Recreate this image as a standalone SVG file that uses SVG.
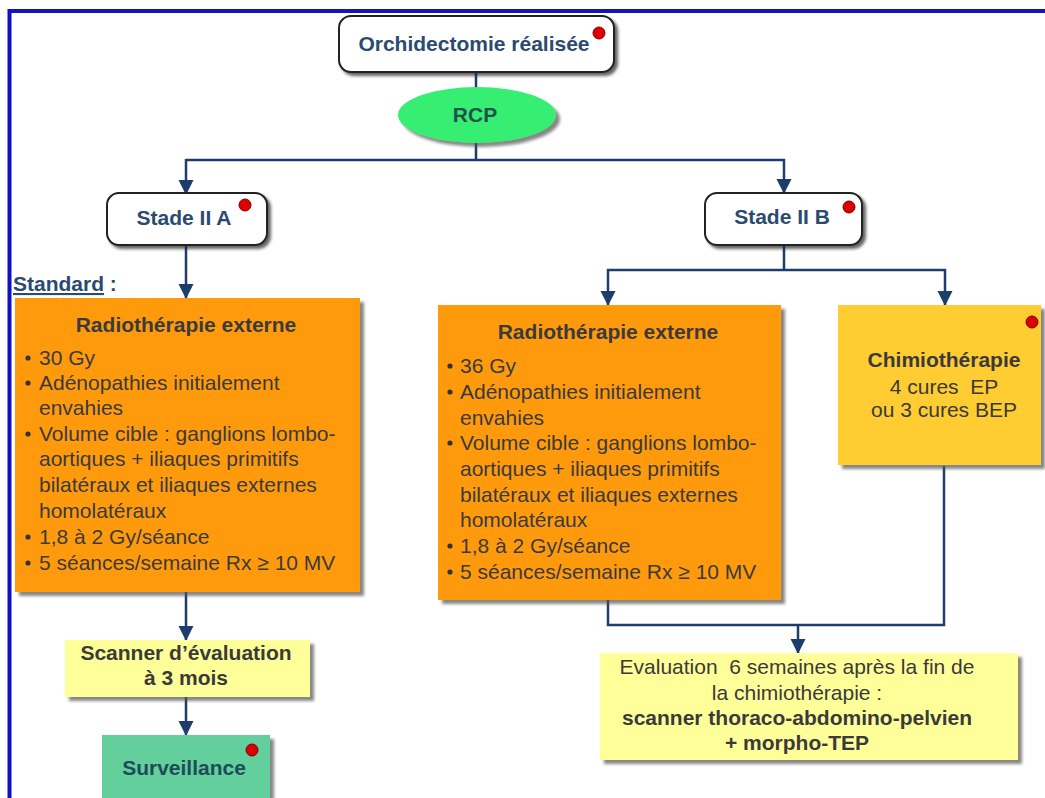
<svg xmlns="http://www.w3.org/2000/svg" width="1045" height="798" viewBox="0 0 1045 798">
<defs>
<filter id="sh" x="-10%" y="-10%" width="130%" height="130%">
<feDropShadow dx="4" dy="4" stdDeviation="1.5" flood-color="#555" flood-opacity="0.7"/>
</filter>
<filter id="shd" x="-10%" y="-10%" width="130%" height="130%">
<feDropShadow dx="3" dy="3" stdDeviation="1.5" flood-color="#222" flood-opacity="0.7"/>
</filter>
<marker id="ah" markerWidth="16" markerHeight="16" refX="14" refY="7.5" orient="auto" markerUnits="userSpaceOnUse">
<path d="M0,0 L15,7.5 L0,15 Z" fill="#1d3d6c"/>
</marker>
</defs>
<style>
.t{font-family:"Liberation Sans",Arial,sans-serif;font-size:21px;}
.b{font-weight:bold;}
.nv{fill:#2b4a70;}
.dk{fill:#3a3a3a;}
.c{text-anchor:middle;}
.rb{fill:#ffffff;stroke:#222;stroke-width:2;}
.dot{fill:#dd0000;stroke:#7a0000;stroke-width:1;}
.bul{fill:#333;}
.ln{fill:none;stroke:#1d3d6c;stroke-width:2.5;}
.ar{fill:none;stroke:#1d3d6c;stroke-width:2.5;marker-end:url(#ah);}
</style>
<rect x="0" y="0" width="1045" height="798" fill="#ffffff"/>
<line x1="8" y1="11" x2="1045" y2="11" stroke="#1414b8" stroke-width="4"/>
<line x1="9.5" y1="9" x2="9.5" y2="798" stroke="#1010c8" stroke-width="4"/>

<g id="connectors">
<line class="ln" x1="476" y1="72" x2="476" y2="88"/>
<path class="ln" d="M476,142 V160 M186,160 H785"/>
<path class="ar" d="M186,159 V194"/>
<path class="ar" d="M784,159 V193"/>
<path class="ar" d="M186,246 V298"/>
<path class="ln" d="M784,245 V270 M607,270 H946"/>
<path class="ar" d="M608,269 V305"/>
<path class="ar" d="M945,269 V305"/>
<path class="ar" d="M186,592 V640"/>
<path class="ar" d="M186,697 V735"/>
<path class="ln" d="M608,600 V625 H944 V466"/>
<path class="ar" d="M798,624 V653"/>
</g>

<g id="orchidectomie">
<rect class="rb" x="339" y="16" width="275" height="56" rx="12" filter="url(#shd)"/>
<text class="t b nv c" x="474" y="51">Orchidectomie réalisée</text>
<circle class="dot" cx="599" cy="33" r="6"/>
</g>

<g id="rcp">
<ellipse cx="477" cy="115" rx="79" ry="28" fill="#36ee72" filter="url(#sh)"/>
<text class="t b c" fill="#21524a" x="475" y="122">RCP</text>
</g>

<g id="stade2a">
<rect class="rb" x="107" y="193" width="160" height="52" rx="12" filter="url(#shd)"/>
<text class="t b nv c" x="184" y="225">Stade II A</text>
<circle class="dot" cx="245" cy="205" r="6"/>
</g>

<g id="stade2b">
<rect class="rb" x="705" y="193" width="157" height="52" rx="12" filter="url(#shd)"/>
<text class="t b nv c" x="782" y="224">Stade II B</text>
<circle class="dot" cx="849" cy="207" r="6"/>
</g>

<g id="standard">
<text class="t b nv" x="13" y="291"><tspan text-decoration="underline">Standard</tspan> :</text>
</g>

<g id="radio-a">
<rect x="15" y="298" width="345" height="294" fill="#ff9a0a" filter="url(#sh)"/>
<text class="t b dk c" x="186" y="332">Radiothérapie externe</text>
<circle class="bul" cx="28" cy="358" r="2.6"/>
<circle class="bul" cx="28" cy="383" r="2.6"/>
<circle class="bul" cx="28" cy="434" r="2.6"/>
<circle class="bul" cx="28" cy="537" r="2.6"/>
<circle class="bul" cx="28" cy="563" r="2.6"/>
<text class="t dk" x="39" y="365">30 Gy</text>
<text class="t dk" x="39" y="390">Adénopathies initialement</text>
<text class="t dk" x="39" y="415">envahies</text>
<text class="t dk" x="39" y="441">Volume cible : ganglions lombo-</text>
<text class="t dk" x="39" y="466">aortiques + iliaques primitifs</text>
<text class="t dk" x="39" y="492">bilatéraux et iliaques externes</text>
<text class="t dk" x="39" y="518">homolatéraux</text>
<text class="t dk" x="39" y="544">1,8 à 2 Gy/séance</text>
<text class="t dk" x="39" y="570">5 séances/semaine Rx ≥ 10 MV</text>
</g>

<g id="radio-b">
<rect x="438" y="305" width="343" height="295" fill="#ff9a0a" filter="url(#sh)"/>
<text class="t b dk c" x="608" y="339">Radiothérapie externe</text>
<circle class="bul" cx="450" cy="366" r="2.6"/>
<circle class="bul" cx="450" cy="392" r="2.6"/>
<circle class="bul" cx="450" cy="443" r="2.6"/>
<circle class="bul" cx="450" cy="546" r="2.6"/>
<circle class="bul" cx="450" cy="572" r="2.6"/>
<text class="t dk" x="460" y="373">36 Gy</text>
<text class="t dk" x="460" y="399">Adénopathies initialement</text>
<text class="t dk" x="460" y="425">envahies</text>
<text class="t dk" x="460" y="450">Volume cible : ganglions lombo-</text>
<text class="t dk" x="460" y="476">aortiques + iliaques primitifs</text>
<text class="t dk" x="460" y="502">bilatéraux et iliaques externes</text>
<text class="t dk" x="460" y="527">homolatéraux</text>
<text class="t dk" x="460" y="553">1,8 à 2 Gy/séance</text>
<text class="t dk" x="460" y="579">5 séances/semaine Rx ≥ 10 MV</text>
</g>

<g id="chimio">
<rect x="838" y="305" width="203" height="160" fill="#ffcc33" filter="url(#sh)"/>
<text class="t b dk c" x="944" y="367">Chimiothérapie</text>
<text class="t dk c" x="944" y="394" xml:space="preserve">4 cures  EP</text>
<text class="t dk c" x="944" y="417">ou 3 cures BEP</text>
<circle class="dot" cx="1032" cy="322" r="6"/>
</g>

<g id="scanner">
<rect x="65" y="640" width="245" height="57" fill="#ffff99" filter="url(#sh)"/>
<text class="t b dk c" x="186" y="660">Scanner d’évaluation</text>
<text class="t b dk c" x="186" y="685">à 3 mois</text>
</g>

<g id="surveillance">
<rect x="102" y="735" width="168" height="70" fill="#62cf9c" filter="url(#sh)"/>
<text class="t b c" fill="#1f4a5a" x="184" y="775">Surveillance</text>
<circle class="dot" cx="252" cy="750" r="6"/>
</g>

<g id="evaluation">
<rect x="600" y="653" width="418" height="107" fill="#ffff99" filter="url(#sh)"/>
<text class="t dk c" x="797" y="674" xml:space="preserve">Evaluation  6 semaines après la fin de</text>
<text class="t dk c" x="797" y="700">la chimiothérapie :</text>
<text class="t b dk c" x="797" y="725">scanner thoraco-abdomino-pelvien</text>
<text class="t b dk c" x="797" y="750">+ morpho-TEP</text>
</g>
</svg>
